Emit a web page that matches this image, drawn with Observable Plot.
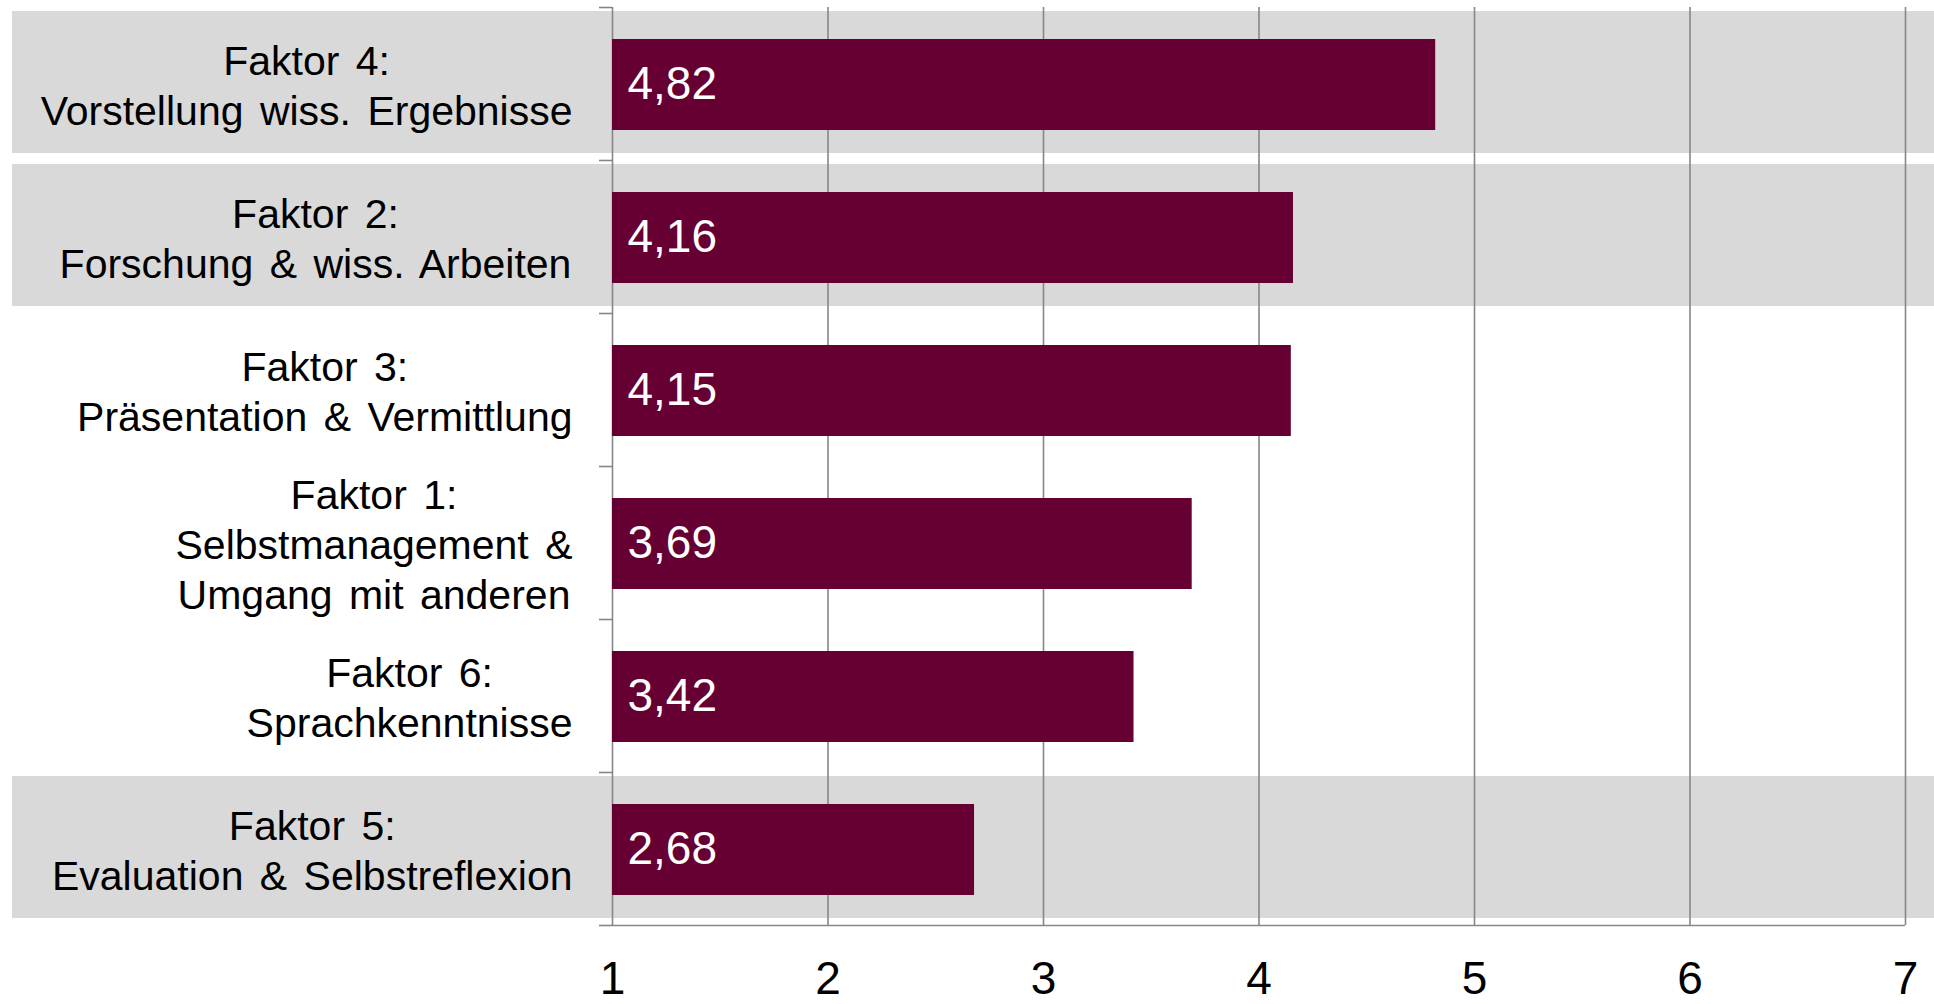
<!DOCTYPE html>
<html>
<head>
<meta charset="utf-8">
<script src="https://cdn.jsdelivr.net/npm/d3@7"></script>
<script src="https://cdn.jsdelivr.net/npm/@observablehq/plot@0.6"></script>
<style>
  html, body { margin: 0; padding: 0; background: #fff; overflow: hidden; }
</style>
</head>
<body>
<div id="chart"></div>
<script>
// ---- data ----
const categories = [
  "Faktor 4:\nVorstellung wiss. Ergebnisse",
  "Faktor 2:\nForschung & wiss. Arbeiten",
  "Faktor 3:\nPräsentation & Vermittlung",
  "Faktor 1:\nSelbstmanagement &\nUmgang mit anderen",
  "Faktor 6:\nSprachkenntnisse",
  "Faktor 5:\nEvaluation & Selbstreflexion"
];
const values = [4.82, 4.16, 4.15, 3.69, 3.42, 2.68];
const highlighted = [true, true, false, false, false, true];
const xTicks = [1, 2, 3, 4, 5, 6, 7];

// ---- layout / style ----
const W = 1934, H = 1004;
const mL = 612, mR = 29, mT = 7, mB = 79;
const fontFamily = "'Liberation Sans', Arial, sans-serif";
const labelFont = 41, valueFont = 46, tickFont = 46;
const wordSpacing = 5;
const gridColor = "#878787";
const barColor = "#660033";
const bandColor = "#d9d9d9";
const labelGap = 40;

const n = categories.length;
const rows = categories.map((c, i) => ({label: c, value: values[i], idx: i, hl: highlighted[i]}));
const fmt = v => v.toFixed(2).replace(".", ",");

// measure widest line of each label
const ctx = document.createElement("canvas").getContext("2d");
ctx.font = `${labelFont}px ${fontFamily}`;
const widest = s => d3.max(s.split("\n"), line =>
  ctx.measureText(line).width + (line.split(" ").length - 1) * wordSpacing);

const plot = Plot.plot({
  width: W, height: H,
  marginLeft: mL, marginRight: mR, marginTop: mT, marginBottom: mB,
  style: {fontFamily, background: "white", color: "black"},
  x: {domain: [1, 7]},
  y: {domain: [0, n], reverse: true},
  marks: [
    Plot.rect(rows.filter(d => d.hl), {
      x1: 1, x2: 7, y1: d => d.idx, y2: d => d.idx + 1,
      insetLeft: -(mL - 12), insetRight: -mR, insetTop: 4, insetBottom: 7,
      fill: bandColor
    }),
    Plot.ruleX(xTicks, {y1: 0, y2: n, stroke: gridColor, strokeWidth: 1.6}),
    Plot.ruleY([n], {x1: 1, x2: 7, stroke: gridColor, strokeWidth: 1.6}),
    Plot.axisY(d3.range(n + 1), {tickSize: 13, tickFormat: () => "", stroke: gridColor, strokeWidth: 1.6, label: null}),
    Plot.axisX(xTicks, {tickSize: 0, tickPadding: 36, fontSize: tickFont, tickFormat: d => String(d), label: null, fill: "black"}),
    Plot.rect(rows, {
      x1: 1, x2: "value", y1: "idx", y2: d => d.idx + 1,
      insetTop: 32, insetBottom: 30, fill: barColor
    }),
    Plot.text(rows, {
      x: 1, y: d => d.idx + 0.5, text: d => fmt(d.value),
      textAnchor: "start", dx: 15, fill: "white", fontSize: valueFont
    }),
    ...rows.map(d => Plot.text([d], {
      x: 1, y: r => r.idx + 0.5, text: "label",
      textAnchor: "middle", lineAnchor: "middle",
      dx: -(labelGap + widest(d.label) / 2),
      fontSize: labelFont, lineHeight: 50 / labelFont, fill: "black"
    }))
  ]
});
document.getElementById("chart").appendChild(plot);
// apply word spacing to category label texts
plot.querySelectorAll("g[aria-label='text'] text").forEach(t => {
  if (t.textContent.startsWith("Faktor")) t.style.wordSpacing = wordSpacing + "px";
});
</script>
</body>
</html>
